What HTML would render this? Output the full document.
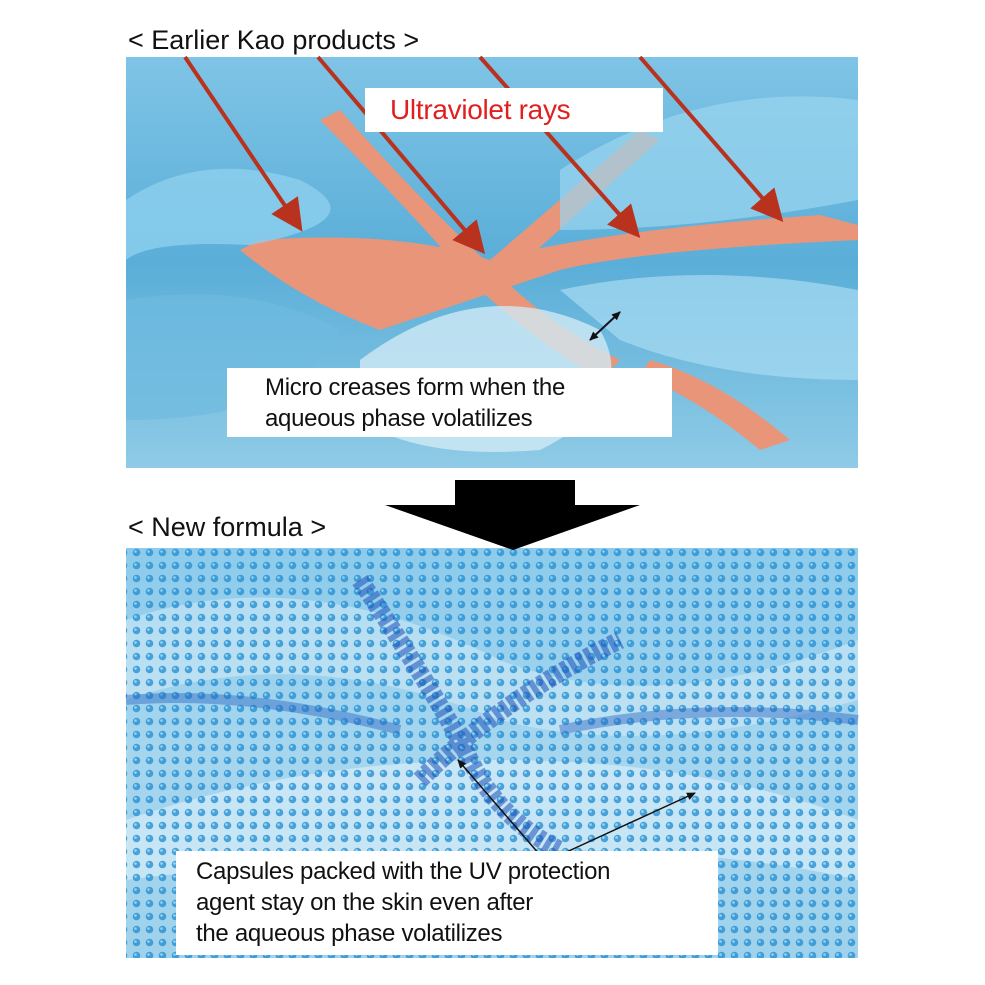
<!DOCTYPE html>
<html><head><style>
body{margin:0;background:#fff;width:985px;height:985px;overflow:hidden;position:relative;font-family:"Liberation Sans",sans-serif}
.t{position:absolute;font-size:27px;color:#111}
.box{position:absolute;background:#fff;color:#111;font-size:24px;line-height:31px;letter-spacing:-0.3px}
</style></head><body>
<svg width="985" height="985" style="position:absolute;left:0;top:0">
<defs>
<linearGradient id="g1" x1="0" y1="0" x2="0" y2="1"><stop offset="0" stop-color="#7fc4e6"/><stop offset="0.5" stop-color="#5aaed8"/><stop offset="1" stop-color="#8fcbe6"/></linearGradient>
<linearGradient id="g2" x1="0" y1="0" x2="0" y2="1"><stop offset="0" stop-color="#8ccbec"/><stop offset="0.5" stop-color="#a6d6ee"/><stop offset="1" stop-color="#9fd2ec"/></linearGradient>
<pattern id="dots" width="13" height="13" patternUnits="userSpaceOnUse"><circle cx="6.5" cy="6.5" r="3.8" fill="#2a90d2"/><circle cx="5.5" cy="5.5" r="1.3" fill="#8fd6f7"/></pattern>
<marker id="ah" markerWidth="8" markerHeight="8" refX="6" refY="4" orient="auto"><path d="M0,0 L8,4 L0,8 z" fill="#b8321e"/></marker>
<marker id="bh" markerWidth="10" markerHeight="10" refX="8" refY="5" orient="auto" markerUnits="userSpaceOnUse"><path d="M0,1 L9,5 L0,9 z" fill="#111"/></marker>
<marker id="bs" markerWidth="10" markerHeight="10" refX="1" refY="5" orient="auto" markerUnits="userSpaceOnUse"><path d="M9,1 L0,5 L9,9 z" fill="#111"/></marker>
<clipPath id="c1"><rect x="126" y="57" width="732" height="411"/></clipPath>
</defs>
<rect x="126" y="57" width="732" height="411" fill="url(#g1)"/>
<g clip-path="url(#c1)">
<path d="M260,240 Q400,230 490,260 Q600,230 820,215 L858,225 L858,240 Q640,250 560,270 Q470,300 380,330 Q300,300 240,250z" fill="#e8957a"/>
<path d="M340,110 Q420,200 490,265 Q540,320 620,360 L600,380 Q520,330 470,280 Q400,200 320,120z" fill="#e8957a"/>
<path d="M490,260 Q560,200 640,130 L660,140 Q580,210 510,275z" fill="#e8957a"/>
<path d="M650,360 Q720,380 790,440 L760,450 Q700,400 640,375z" fill="#e8957a"/>
<path d="M126,200 Q200,150 300,180 Q380,220 250,245 Q150,240 126,260z" fill="#8dd0ee" opacity=".8"/>
<path d="M560,170 Q700,80 858,100 L858,200 Q700,230 560,230z" fill="#9ad6f0" opacity=".7"/>
<path d="M360,360 Q480,270 600,330 Q640,400 540,450 Q420,460 360,420z" fill="#cfeaf5" opacity=".8"/>
<path d="M560,290 Q700,260 858,290 L858,380 Q720,380 620,340z" fill="#a8dcf2" opacity=".7"/>
<path d="M126,300 Q250,280 340,330 Q300,420 126,420z" fill="#6fbbe0" opacity=".7"/>
</g>
<g stroke="#b8321e" stroke-width="4" marker-end="url(#ah)">
<line x1="185" y1="57" x2="298" y2="225"/><line x1="318" y1="57" x2="480" y2="248"/>
<line x1="480" y1="57" x2="635" y2="232"/><line x1="640" y1="57" x2="778" y2="216"/>
</g>
<line x1="590" y1="340" x2="620" y2="312" stroke="#112" stroke-width="2" marker-end="url(#bh)" marker-start="url(#bs)"/>
<rect x="126" y="548" width="732" height="410" fill="url(#g2)"/>
<path d="M126,620 Q300,560 500,660 Q650,720 858,640 L858,700 Q650,760 500,720 Q300,640 126,700z" fill="#d8eef8" opacity=".5"/>
<path d="M126,820 Q300,760 500,760 Q700,760 858,820 L858,880 Q600,820 126,880z" fill="#e0f2fa" opacity=".6"/>
<rect x="126" y="548" width="732" height="410" fill="url(#dots)" opacity=".8"/>
<path d="M360,580 Q440,700 470,760 Q500,820 560,850 M420,780 Q500,700 620,640" stroke="#1e50b8" stroke-width="18" fill="none" opacity=".55" stroke-dasharray="6 3"/>
<path d="M560,730 Q700,700 858,720 M126,700 Q250,690 400,730" stroke="#2a66c4" stroke-width="10" fill="none" opacity=".45"/>
<polygon points="455,480 575,480 575,505 640,505 513,550 385,505 455,505" fill="#000"/>
<g stroke="#111" stroke-width="1.5" marker-end="url(#bh)"><line x1="540" y1="855" x2="458" y2="760"/><line x1="560" y1="855" x2="695" y2="793"/></g>
</svg>
<div class="t" style="left:128px;top:25px">&lt; Earlier Kao products &gt;</div>
<div class="t" style="left:128px;top:512px">&lt; New formula &gt;</div>
<div class="box" style="left:365px;top:88px;width:298px;height:44px;color:#e02020;font-size:28px;padding-left:25px;box-sizing:border-box;line-height:44px">Ultraviolet rays</div>
<div class="box" style="left:227px;top:368px;width:445px;height:69px;padding:4px 0 0 38px;box-sizing:border-box">Micro creases form when the<br>aqueous phase volatilizes</div>
<div class="box" style="left:176px;top:851px;width:542px;height:104px;padding:5px 0 0 20px;box-sizing:border-box">Capsules packed with the UV protection<br>agent stay on the skin even after<br>the aqueous phase volatilizes</div>
</body></html>
